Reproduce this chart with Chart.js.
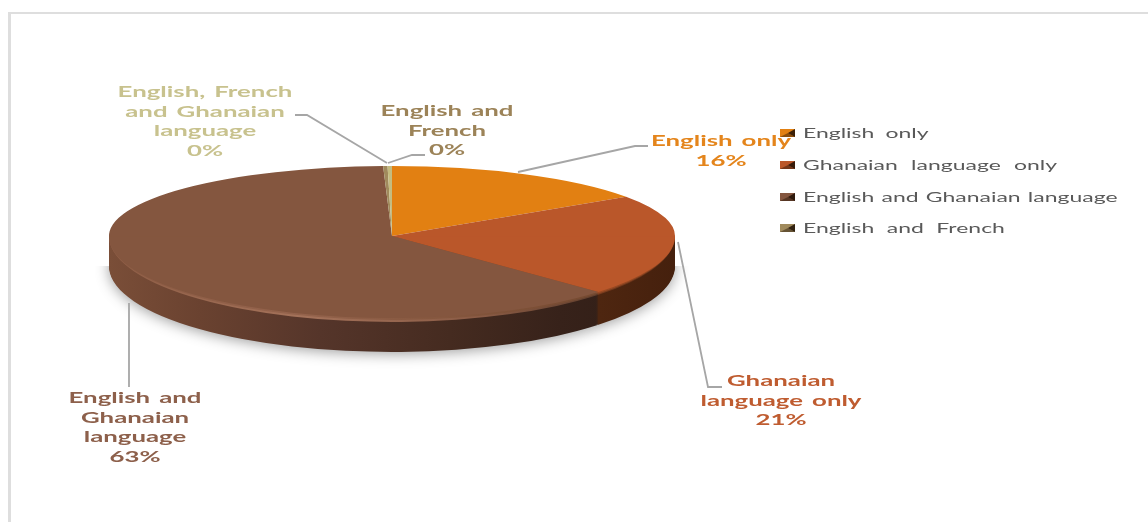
<!DOCTYPE html>
<html><head><meta charset="utf-8">
<style>html,body{margin:0;padding:0;background:#fff}canvas{display:block}</style>
<script src="https://cdn.jsdelivr.net/npm/chart.js@4"></script></head>
<body><div style="width:1148px;height:522px"><canvas id="c" width="1148" height="522"></canvas></div>
<script>
const categories=['English only','Ghanaian language only','English and Ghanaian language','English and French','English, French and Ghanaian language'];
const shares=[15.5,21.49,62.51,0.25,0.25];
const faceColors=['#E28012','#BA572A','#84563F','#A08A5C','#C4BC80'];
const labelColors=['#E4851C','#BF5C30','#8D604B','#9C8358','#C8C28E'];
const legendCount=4;
const LAB=[['English only'],['Ghanaian','language only'],['English and','Ghanaian','language'],['English and','French'],['English, French','and Ghanaian','language']];

const G={cx:392,cy:236,rx:283,top:70,bot:86,depth:30,R:200};
function grad(ctx,arc,stops){
  const sx=G.rx/G.R, X=v=>arc.x+(v-G.cx)/sx;
  const g=ctx.createLinearGradient(X(109),0,X(675),0);
  stops.forEach(s=>g.addColorStop((s[0]-109)/566,s[1]));return g;
}
function drawArcs(ctx,arcs,half,dy,ry,fills){
  const w=ctx.canvas.width,h=ctx.canvas.height;
  arcs.forEach((arc,i)=>{
    const f=fills(i,arc); if(!f) return;
    ctx.save();ctx.beginPath();
    if(half==='top') ctx.rect(0,0,w,G.cy+.5+dy); else ctx.rect(0,G.cy+dy,w,h);
    ctx.clip();
    ctx.translate(G.cx,G.cy+dy);ctx.scale(G.rx/G.R,ry/G.R);ctx.translate(-arc.x,-arc.y);
    const o=arc.options;
    arc.options=Object.create(o,{backgroundColor:{value:f}});
    arc.draw(ctx);
    arc.options=o;
    ctx.restore();
  });
}
const pie3d={id:'pie3d',beforeDatasetsDraw(chart){
  const ctx=chart.ctx,arcs=chart.getDatasetMeta(0).data;
  const wall=(i,a)=>i===2?grad(ctx,a,[[109,'#7A4E38'],[200,'#6A4230'],[320,'#55352A'],[450,'#452B20'],[560,'#37221A'],[675,'#2F1D15']])
    :i===1?grad(ctx,a,[[600,'#4E2610'],[675,'#45200D']]):faceColors[i];
  ctx.save();
  ctx.shadowColor='rgba(0,0,0,.38)';ctx.shadowBlur=14;ctx.shadowOffsetY=2;
  drawArcs(ctx,arcs,'bot',G.depth,G.bot,wall);
  ctx.restore();
  for(let d=G.depth-1;d>=0;d--) drawArcs(ctx,arcs,'bot',d,G.bot,wall);
  const rim=(i,a)=>i===2?grad(ctx,a,[[109,'#8E5D45'],[300,'#A4725A'],[480,'#8A5B45'],[610,'#5E3C2A']])
    :i===1?grad(ctx,a,[[600,'#7A3C1E'],[675,'#5A2A12']]):faceColors[i];
  drawArcs(ctx,arcs,'bot',0,G.bot,rim);
  const rim2=(i,a)=>i===2?grad(ctx,a,[[109,'#8A5A43'],[300,'#94634C'],[610,'#74492F']])
    :i===1?grad(ctx,a,[[600,'#9A4A23'],[675,'#8A4420']]):faceColors[i];
  drawArcs(ctx,arcs,'bot',0,G.bot-2,rim2);
  const face=i=>faceColors[i];
  drawArcs(ctx,arcs,'bot',0,G.bot-4,face);
  drawArcs(ctx,arcs,'top',0,G.top,face);
  return false;
}};
function stretched(ctx,t,x,y,sx,align,ws){
  ctx.save();ctx.translate(x,y);ctx.scale(sx,1);ctx.textAlign=align;ctx.wordSpacing=ws+'px';ctx.fillText(t,0,0);ctx.restore();
}
function line(ctx,p){ctx.beginPath();p.forEach((q,i)=>i?ctx.lineTo(q[0],q[1]):ctx.moveTo(q[0],q[1]));ctx.stroke();}
const LEAD=[[[518,172],[635,146],[648,146]],[[678,242],[708,387],[722,387]],[[129,303],[129,387]],[[388,163],[412,155],[425,155]],[[387,163],[307,115],[295,115]]];
const LABPOS=[[721,141],[781,381],[135,398],[447,111],[205,92]];
const LEGY=[133,165,197,228];
const LEGWS=[3.2,4.5,0.8,4];
const annot={id:'annot',afterDraw(chart){
  const ctx=chart.ctx;ctx.save();
  ctx.fillStyle='#DEDEDE';ctx.fillRect(8,12,1140,2);ctx.fillRect(8,12,3,510);
  ctx.strokeStyle='#A6A6A6';ctx.lineWidth=1.8;LEAD.forEach(p=>line(ctx,p));
  ctx.font='bold 15px Lato';ctx.textBaseline='alphabetic';
  categories.forEach((c,i)=>{
    ctx.fillStyle=labelColors[i];
    const rows=LAB[i].concat([Math.round(shares[i])+'%']);
    rows.forEach((r,j)=>stretched(ctx,r,LABPOS[i][0],LABPOS[i][1]+5+j*19.6,1.72,'center',1.6));
  });
  ctx.font='14px Lato';
  for(let i=0;i<legendCount;i++){
    const y=LEGY[i],x=780;
    ctx.fillStyle=faceColors[i];ctx.fillRect(x,y-4,15,8);
    ctx.fillStyle='rgba(30,15,5,.85)';ctx.beginPath();ctx.moveTo(x+15,y-4);ctx.lineTo(x+15,y+4);ctx.lineTo(x+8,y);ctx.fill();
    ctx.fillStyle='rgba(30,15,5,.45)';ctx.beginPath();ctx.moveTo(x,y+4);ctx.lineTo(x+15,y+4);ctx.lineTo(x+8,y);ctx.fill();
    ctx.fillStyle='#595959';
    stretched(ctx,categories[i],803,y+5,1.64,'left',LEGWS[i]);
  }
  ctx.restore();
}};
new Chart(document.getElementById('c'),{type:'pie',
  data:{labels:categories,datasets:[{data:shares,backgroundColor:faceColors,borderWidth:0,radius:G.R}]},
  options:{responsive:false,animation:false,events:[],plugins:{legend:{display:false},tooltip:{enabled:false}}},
  plugins:[pie3d,annot]});
</script></body></html>
